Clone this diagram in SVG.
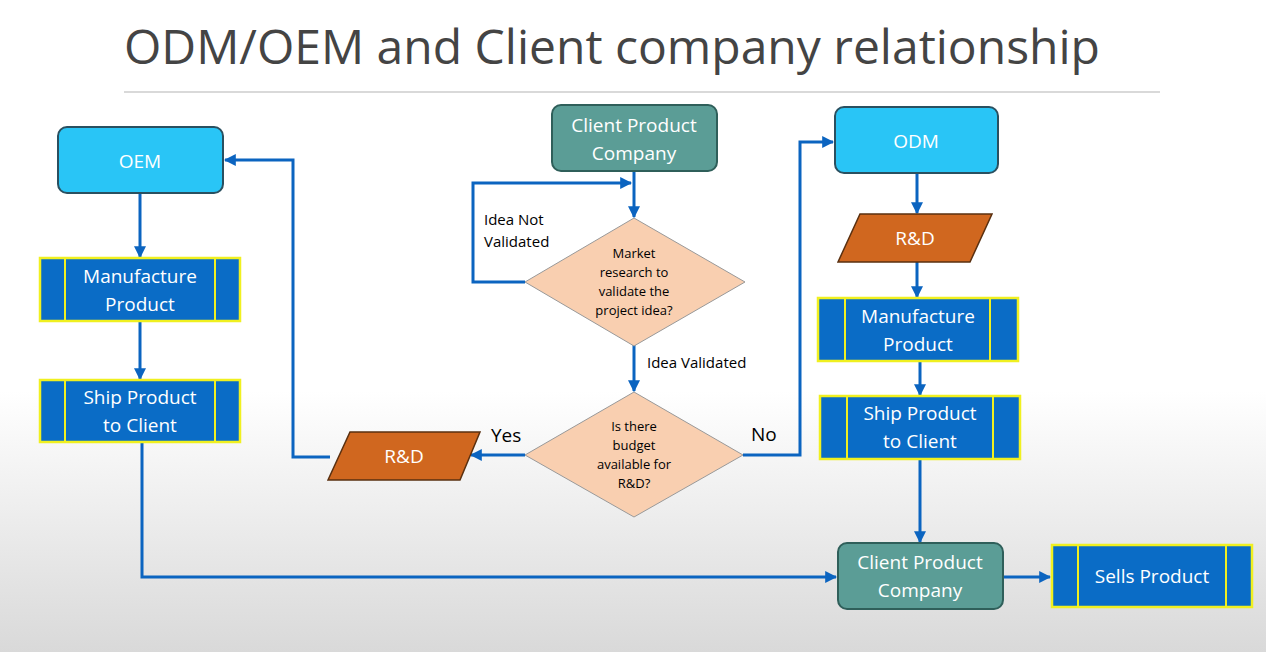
<svg xmlns="http://www.w3.org/2000/svg" width="1266" height="652" viewBox="0 0 1266 652">
<defs>
<linearGradient id="bg" x1="0" y1="0" x2="0" y2="1"><stop offset="0" stop-color="#fff"/><stop offset="0.6" stop-color="#fff"/><stop offset="1" stop-color="#d9d9d9"/></linearGradient>
<marker id="ar" viewBox="0 0 10 10" refX="9" refY="5" markerWidth="4" markerHeight="4" orient="auto"><path d="M0,0 L10,5 L0,10 z" fill="#0b64c0"/></marker>
<style>
text{font-family:"Open Sans","Liberation Sans",sans-serif}
.c{fill:none;stroke:#0b64c0;stroke-width:3;marker-end:url(#ar)}
.blue{fill:#29c5f6;stroke:#2a5060;stroke-width:2}
.teal{fill:#5b9d96;stroke:#2f5f5a;stroke-width:2}
.proc{fill:#0a6cc6;stroke:#f0f020;stroke-width:2.5}
.rd{fill:#d0671f;stroke:#5a3010;stroke-width:1.5}
.dia{fill:#f9cfb0;stroke:#999;stroke-width:1}
.w{fill:#fff;font-size:19px;text-anchor:middle}
.s{fill:#000;font-size:13px;text-anchor:middle}
.l{fill:#000;font-size:15px}
.yn{fill:#000;font-size:19px}
</style>
</defs>
<rect width="1266" height="652" fill="url(#bg)"/>
<text x="124" y="64" font-size="48" fill="#444">ODM/OEM and Client company relationship</text>
<line x1="124" y1="92" x2="1160" y2="92" stroke="#ccc" stroke-width="1.5"/>
<g id="connectors">
<path class="c" d="M140,193 V257"/>
<path class="c" d="M140,321 V379"/>
<path class="c" d="M142,442 V577 H836"/>
<path class="c" d="M634,171 V217"/>
<path class="c" d="M525,282 H473 V183 H631"/>
<path class="c" d="M634,345 V391"/>
<path class="c" d="M525,455 H471"/>
<path class="c" d="M330,457 H293 V160 H225"/>
<path class="c" d="M743,455 H800 V142 H833"/>
<path class="c" d="M917,173 V213"/>
<path class="c" d="M917,262 V297"/>
<path class="c" d="M920,361 V395"/>
<path class="c" d="M920,459 V542"/>
<path class="c" d="M1003,577 H1050"/>
</g>
<text class="l" x="484" y="225">Idea Not</text>
<text class="l" x="484" y="247">Validated</text>
<text class="l" x="647" y="368">Idea Validated</text>
<text class="yn" x="491" y="442">Yes</text>
<text class="yn" x="751" y="441">No</text>
<g id="oem"><rect class="blue" x="58" y="127" width="165" height="66" rx="9"/><text class="w" x="140" y="168">OEM</text></g>
<g id="manuf-left"><rect class="proc" x="40" y="258" width="200" height="63"/><path d="M65,258V321M215,258V321" stroke="#f0f020" stroke-width="2"/><text class="w" x="140" y="283">Manufacture</text><text class="w" x="140" y="311">Product</text></g>
<g id="ship-left"><rect class="proc" x="40" y="380" width="200" height="62"/><path d="M65,380V442M215,380V442" stroke="#f0f020" stroke-width="2"/><text class="w" x="140" y="404">Ship Product</text><text class="w" x="140" y="432">to Client</text></g>
<g id="client-top"><rect class="teal" x="552" y="105" width="165" height="66" rx="9"/><text class="w" x="634" y="132">Client Product</text><text class="w" x="634" y="160">Company</text></g>
<g id="d1"><polygon class="dia" points="634,218 745,282 634,346 525,282"/><text class="s" x="634" y="258">Market</text><text class="s" x="634" y="277">research to</text><text class="s" x="634" y="296">validate the</text><text class="s" x="634" y="315">project idea?</text></g>
<g id="d2"><polygon class="dia" points="634,392 743,455 634,517 525,455"/><text class="s" x="634" y="431">Is there</text><text class="s" x="634" y="450">budget</text><text class="s" x="634" y="469">available for</text><text class="s" x="634" y="488">R&amp;D?</text></g>
<g id="rd-left"><polygon class="rd" points="350,432 480,432 460,480 328,480"/><text class="w" x="404" y="463">R&amp;D</text></g>
<g id="odm"><rect class="blue" x="835" y="107" width="163" height="66" rx="9"/><text class="w" x="916" y="148">ODM</text></g>
<g id="rd-right"><polygon class="rd" points="860,214 992,214 970,262 838,262"/><text class="w" x="915" y="245">R&amp;D</text></g>
<g id="manuf-right"><rect class="proc" x="818" y="298" width="200" height="63"/><path d="M845,298V361M990,298V361" stroke="#f0f020" stroke-width="2"/><text class="w" x="918" y="323">Manufacture</text><text class="w" x="918" y="351">Product</text></g>
<g id="ship-right"><rect class="proc" x="820" y="396" width="200" height="63"/><path d="M847,396V459M993,396V459" stroke="#f0f020" stroke-width="2"/><text class="w" x="920" y="420">Ship Product</text><text class="w" x="920" y="448">to Client</text></g>
<g id="client-bottom"><rect class="teal" x="838" y="543" width="165" height="66" rx="9"/><text class="w" x="920" y="569">Client Product</text><text class="w" x="920" y="597">Company</text></g>
<g id="sells"><rect class="proc" x="1052" y="545" width="200" height="62"/><path d="M1078,545V607M1226,545V607" stroke="#f0f020" stroke-width="2"/><text class="w" x="1152" y="583">Sells Product</text></g>
</svg>
